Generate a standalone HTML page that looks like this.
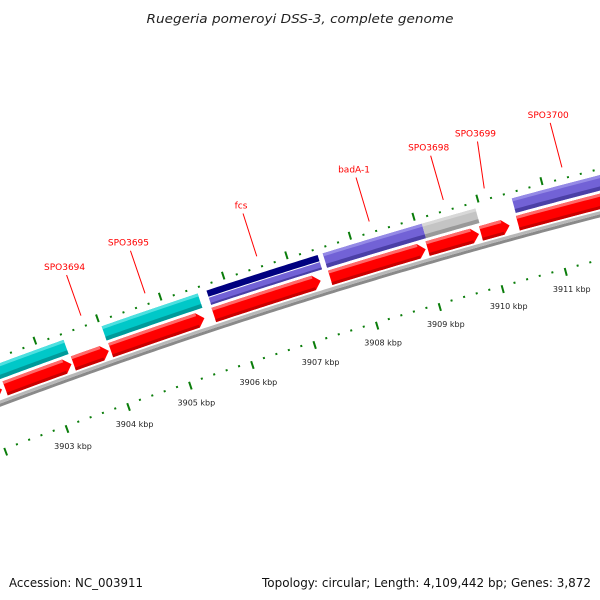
<!DOCTYPE html>
<html><head><meta charset="utf-8">
<style>
html,body{margin:0;padding:0;background:#fff;}
svg{display:block;}
</style></head>
<body>
<svg id="map" width="600" height="600" viewBox="0 0 600 600" xmlns="http://www.w3.org/2000/svg">
<rect x="0" y="0" width="600" height="600" fill="#fff"/>
<text x="300" y="23" text-anchor="middle" font-family="DejaVu Sans, Liberation Sans, sans-serif" font-style="italic" font-size="12.5" fill="#222" textLength="307" lengthAdjust="spacingAndGlyphs">Ruegeria pomeroyi DSS-3, complete genome</text>
<g id="tracks"></g>
<text x="9" y="587" font-family="DejaVu Sans, Liberation Sans, sans-serif" font-size="12" fill="#111" textLength="134" lengthAdjust="spacingAndGlyphs">Accession: NC_003911</text>
<text x="591" y="587" text-anchor="end" font-family="DejaVu Sans, Liberation Sans, sans-serif" font-size="12" fill="#111" textLength="329" lengthAdjust="spacingAndGlyphs">Topology: circular; Length: 4,109,442 bp; Genes: 3,872</text>
</svg>
<script>
// ---- data (bp) ----
const cdsStart = [3901800, 3902330, 3903430, 3904030, 3905680, 3907530, 3909070, 3909910, 3910490];
const cdsEnd   = [3902280, 3903400, 3904000, 3905530, 3907380, 3909040, 3909880, 3910360, 3912600];
const cogStart = [3902200, 3904020, 3907530, 3909090, 3910500];
const cogEnd   = [3903410, 3905550, 3909090, 3909930, 3912600];
const cogColor = ['teal', 'teal', 'purple', 'grey', 'purple'];
const fcsStart = [3905690];
const fcsEnd   = [3907450];
const labelNames = ['SPO3694', 'SPO3695', 'fcs', 'badA-1', 'SPO3698', 'SPO3699', 'SPO3700'];
const labelBaseBp = [3903780, 3904800, 3906570, 3908340, 3909500, 3910140, 3911350];
const labelTopBp  = [3903780, 3904800, 3906570, 3908340, 3909500, 3910230, 3911350];
const labelTopR   = [98, 100, 100, 101, 101, 102, 101];
const tickStartBp = 3901800;
const tickEndBp = 3912600;
const tickStep = 200;
const rulerLabels = ['3903 kbp','3904 kbp','3905 kbp','3906 kbp','3907 kbp','3908 kbp','3909 kbp','3910 kbp','3911 kbp'];
const rulerLabelBp = [3903000,3904000,3905000,3906000,3907000,3908000,3909000,3910000,3911000];

// ---- geometry (circle arc) ----
const R = 6000, CX = 2103, CY = 6023;
const PSI_A = Math.atan2(385 - CY, 51 - CX);
const K = 65.9 / 1000 / R;
function P(bp, d) {
  const a = PSI_A + (bp - 3903000) * K;
  const r = R + d;
  return [CX + r * Math.cos(a), CY + r * Math.sin(a)];
}
const NS = 'http://www.w3.org/2000/svg';
const g = document.getElementById('tracks');
function pts(b1, b2, d) {
  const out = [];
  const n = Math.max(2, Math.ceil(Math.abs(b2 - b1) / 60));
  for (let i = 0; i <= n; i++) out.push(P(b1 + (b2 - b1) * i / n, d));
  return out;
}
function bandPath(b1, b2, r1, r2) {
  const a = pts(b1, b2, r2), b = pts(b2, b1, r1);
  return 'M' + a.concat(b).map(p => p[0].toFixed(2) + ',' + p[1].toFixed(2)).join('L') + 'Z';
}
function arrowPath(b1, b2, r1, r2, head) {
  const hb = Math.max(b1, b2 - head);
  const a = pts(b1, hb, r2);
  const tip = P(b2, (r1 + r2) / 2);
  const b = pts(hb, b1, r1);
  return 'M' + a.concat([tip]).concat(b).map(p => p[0].toFixed(2) + ',' + p[1].toFixed(2)).join('L') + 'Z';
}
function mk(tag, attrs) {
  const e = document.createElementNS(NS, tag);
  for (const k in attrs) e.setAttribute(k, attrs[k]);
  g.appendChild(e);
  return e;
}

// backbone
let e;
e = mk('path', {d: bandPath(3901000, 3913500, -3, 0), fill: '#8a8a8a'});


e = mk('path', {d: bandPath(3901000, 3913500, 0, 3), fill: '#b8b8b8'});



// CDS forward strand
const HEAD = 110;
for (let i = 0; i < cdsStart.length; i++) {
  e = mk('path', {d: arrowPath(cdsStart[i], cdsEnd[i], 5, 20, HEAD), fill: '#ff0000'});
  
  
  e = mk('path', {d: bandPath(cdsStart[i], cdsEnd[i] - HEAD, 17, 20), fill: '#ff6a6a'});
  
  
  e = mk('path', {d: bandPath(cdsStart[i], cdsEnd[i] - HEAD, 5, 8), fill: '#c80000'});
  
  
}

// COG track
const cols = {teal: ['#00c8c8', '#4ee0e0', '#009a9a'], purple: ['#7262d6', '#958ae6', '#4b3fa6'], grey: ['#c4c4c4', '#d8d8d8', '#999999']};
for (let i = 0; i < cogStart.length; i++) {
  const c = cols[cogColor[i]];
  e = mk('path', {d: bandPath(cogStart[i], cogEnd[i], 23, 38), fill: c[0]});
  
  
  e = mk('path', {d: bandPath(cogStart[i], cogEnd[i], 35, 38), fill: c[1]});
  
  
  e = mk('path', {d: bandPath(cogStart[i], cogEnd[i], 23, 27), fill: c[2]});
  
  
}
for (let i = 0; i < fcsStart.length; i++) {
  e = mk('path', {d: bandPath(fcsStart[i], fcsEnd[i], 31.5, 38), fill: '#000080'});
  
  
  e = mk('path', {d: bandPath(fcsStart[i], fcsEnd[i], 23, 30.5), fill: '#7262d6'});
  
  
  e = mk('path', {d: bandPath(fcsStart[i], fcsEnd[i], 23, 25), fill: '#4b3fa6'});
  
  
}

// rulers
for (let bp = tickStartBp; bp <= tickEndBp; bp += tickStep) {
  const major = (bp % 1000 === 0);
  // outer ruler
  let a = P(bp, 43), b = P(bp, major ? 51 : 45);
  e = mk('line', {x1: a[0], y1: a[1], x2: b[0], y2: b[1], stroke: '#0a7d0a', 'stroke-width': 2});
  
  
  // inner ruler
  a = P(bp, -43); b = P(bp, major ? -51 : -45);
  e = mk('line', {x1: a[0], y1: a[1], x2: b[0], y2: b[1], stroke: '#0a7d0a', 'stroke-width': 2});
  
  
}
for (let i = 0; i < rulerLabels.length; i++) {
  const p = P(rulerLabelBp[i], -47);
  e = mk('text', {x: p[0] + 6, y: p[1] + 20, 'text-anchor': 'middle', 'font-family': 'DejaVu Sans, Liberation Sans, sans-serif', 'font-size': 8, fill: '#222'});
  e.textContent = rulerLabels[i];
  
  
}

// feature labels
for (let i = 0; i < labelNames.length; i++) {
  const a = P(labelBaseBp[i], 55), b = P(labelTopBp[i], labelTopR[i]);
  e = mk('line', {x1: a[0], y1: a[1], x2: b[0], y2: b[1], stroke: '#ff0000', 'stroke-width': 1});
  
  
  e = mk('text', {x: b[0] - 2, y: b[1] - 5, 'text-anchor': 'middle', 'font-family': 'DejaVu Sans, Liberation Sans, sans-serif', 'font-size': 9, fill: '#ff0000'});
  e.textContent = labelNames[i];
  
  
}
</script>
</body></html>
